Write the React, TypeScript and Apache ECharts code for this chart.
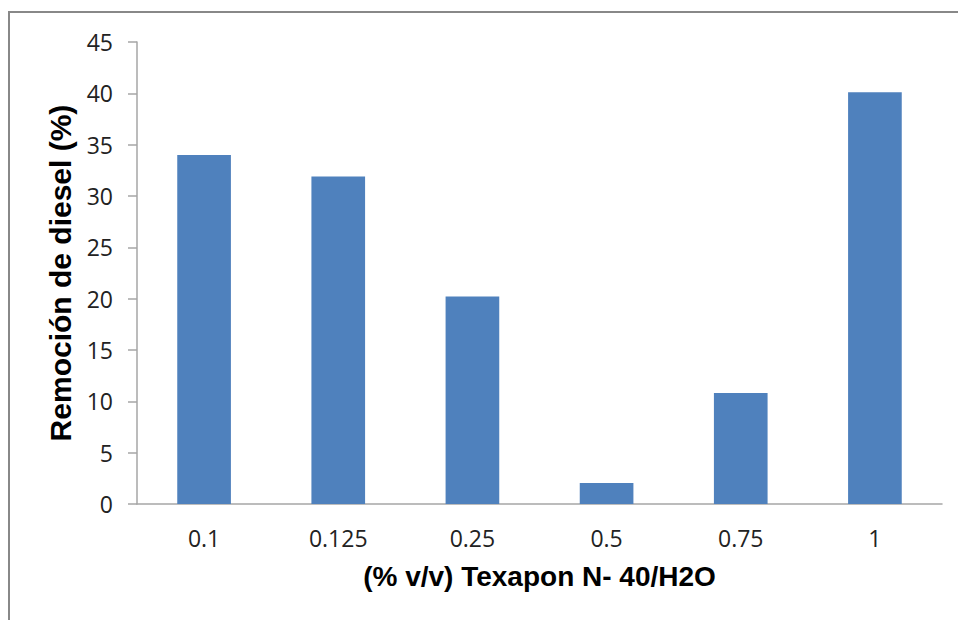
import React, { useEffect, useRef } from "react";
import * as echarts from "echarts";

const categories = ["0.1", "0.125", "0.25", "0.5", "0.75", "1"];
const removal = [34.0, 31.9, 20.2, 2.05, 10.8, 40.1];
const yTitle = "Remoción de diesel (%)";
const xTitle = "(% v/v) Texapon N- 40/H2O";

export default function App() {
  const ref = useRef<HTMLDivElement>(null);
  useEffect(() => {
    const chart = echarts.init(ref.current!, undefined, { renderer: "svg" });
    chart.setOption({
      animation: false,
      backgroundColor: "#fff",
      grid: { left: 137, right: 16, top: 42, bottom: 116 },
      xAxis: {
        type: "category",
        data: categories,
        name: xTitle,
        nameLocation: "middle",
        nameGap: 58,
        nameTextStyle: { fontFamily: "Liberation Sans", fontWeight: "bold", fontSize: 28, color: "#000" },
        axisLine: { lineStyle: { color: "#a6a6a6", width: 1.5 } },
        axisTick: { show: false },
        axisLabel: { margin: 22, fontFamily: "Open Sans", fontSize: 23, color: "#222" },
      },
      yAxis: {
        type: "value",
        min: 0,
        max: 45,
        interval: 5,
        name: yTitle,
        nameLocation: "middle",
        nameGap: 61,
        nameTextStyle: { fontFamily: "Liberation Sans", fontWeight: "bold", fontSize: 30, color: "#000" },
        axisLine: { show: true, lineStyle: { color: "#a6a6a6", width: 1.5 } },
        axisTick: { show: true, length: 9, lineStyle: { color: "#a6a6a6", width: 1.5 } },
        splitLine: { show: false },
        axisLabel: { margin: 24, fontFamily: "Open Sans", fontSize: 23, color: "#222" },
      },
      series: [
        {
          type: "bar",
          data: removal,
          barWidth: "40%",
          itemStyle: { color: "#4f81bd" },
        },
      ],
      graphic: [
        {
          type: "polyline",
          shape: { points: [[9, 620], [9, 12], [958, 12]] },
          style: { stroke: "#888", lineWidth: 2, fill: null },
        },
      ],
    });
    return () => chart.dispose();
  }, []);
  return <div ref={ref} style={{ width: 958, height: 620, position: "absolute", left: 0, top: 0 }} />;
}
